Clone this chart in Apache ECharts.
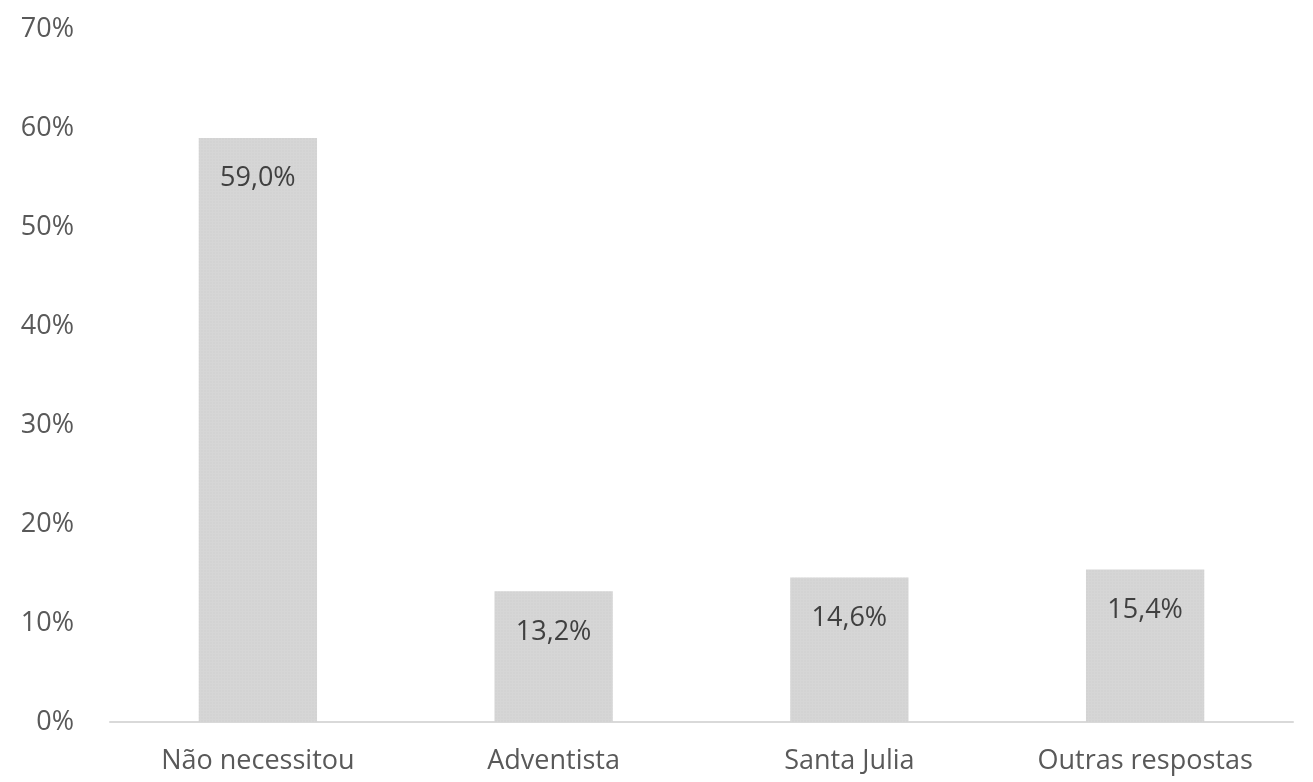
<!DOCTYPE html>
<html>
<head>
<meta charset="utf-8">
<script src="https://cdn.jsdelivr.net/npm/echarts@6/dist/echarts.min.js"></script>
<style>
  html, body { margin: 0; padding: 0; background: #fff; }
  #chart { width: 1313px; height: 782px; }
</style>
</head>
<body>
<div id="chart"></div>
<script>
// categorias e valores (%)
var categories = ["Não necessitou", "Adventista", "Santa Julia", "Outras respostas"];
var values = [59.0, 13.2, 14.6, 15.4];
var yTicks = [0, 10, 20, 30, 40, 50, 60, 70];

var chart = echarts.init(document.getElementById("chart"));
chart.setOption({
  animation: false,
  textStyle: { fontFamily: "Open Sans" },
  grid: { left: 110, right: 20, top: 29, bottom: 60 },
  xAxis: {
    type: "category",
    data: categories,
    axisTick: { show: false },
    axisLine: { lineStyle: { color: "#d9d9d9", width: 2 } },
    axisLabel: { color: "#595959", fontSize: 27, margin: 26 }
  },
  yAxis: {
    type: "value",
    min: yTicks[0],
    max: yTicks[yTicks.length - 1],
    interval: 10,
    splitLine: { show: false },
    axisLine: { show: false },
    axisTick: { show: false },
    axisLabel: {
      color: "#595959",
      fontSize: 27,
      margin: 36,
      formatter: function (v) { return v + "%"; }
    }
  },
  series: [
    {
      type: "bar",
      data: values,
      barWidth: "40%",
      itemStyle: {
        color: "#d6d6d6",
        decal: {
          symbol: "circle",
          symbolSize: 0.5,
          color: "rgba(170,170,170,0.35)",
          dashArrayX: [2, 1],
          dashArrayY: [2, 1]
        }
      },
      label: {
        show: true,
        position: "insideTop",
        distance: 27,
        color: "#404040",
        fontSize: 27,
        formatter: function (p) { return p.value.toFixed(1).replace(".", ",") + "%"; }
      }
    }
  ]
});
</script>
</body>
</html>
